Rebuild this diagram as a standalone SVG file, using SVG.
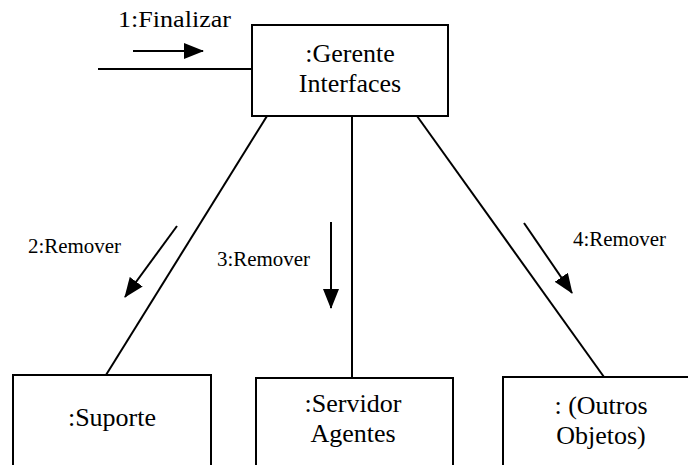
<svg xmlns="http://www.w3.org/2000/svg" width="688" height="465" viewBox="0 0 688 465">
  <style>
    .box { fill: #ffffff; stroke: #000000; stroke-width: 2; }
    .link { fill: none; stroke: #000000; stroke-width: 2; }
    .msg { fill: none; stroke: #000000; stroke-width: 2; marker-end: url(#head); }
    text { font-family: 'Liberation Serif', 'Times New Roman', serif; fill: #000000; }
    .obj { font-size: 26px; text-anchor: middle; }
    .msgtxt { font-size: 20px; }
  </style>
  <defs>
    <!-- filled triangular head for message arrows -->
    <marker id="head" viewBox="0 0 20 16" refX="19" refY="8" markerWidth="20" markerHeight="16" markerUnits="userSpaceOnUse" orient="auto">
      <path d="M0,0 L20,8 L0,16 Z" fill="#000000"/>
    </marker>
  </defs>
  <rect width="688" height="465" fill="#ffffff"/>

  <!-- links between objects, message arrows and their labels -->
  <g id="connectors">
    <line class="link" x1="98" y1="69" x2="252" y2="69"/>
    <line class="link" x1="267" y1="116" x2="106" y2="375"/>
    <line class="link" x1="352" y1="116" x2="352" y2="378"/>
    <line class="link" x1="417" y1="116" x2="604" y2="377"/>
    <line class="msg" x1="133" y1="51" x2="203" y2="51"/>
    <line class="msg" x1="177" y1="226" x2="125" y2="297"/>
    <line class="msg" x1="331" y1="222" x2="331" y2="308"/>
    <line class="msg" x1="524" y1="223" x2="572" y2="293"/>
    <text x="118" y="27" font-size="24" textLength="113" lengthAdjust="spacingAndGlyphs">1:Finalizar</text>
    <text class="msgtxt" x="28" y="253" textLength="93" lengthAdjust="spacingAndGlyphs">2:Remover</text>
    <text class="msgtxt" x="217" y="266" textLength="93" lengthAdjust="spacingAndGlyphs">3:Remover</text>
    <text class="msgtxt" x="573" y="246" textLength="93" lengthAdjust="spacingAndGlyphs">4:Remover</text>
  </g>

  <g id="gerente-interfaces">
    <rect class="box" x="252" y="25" width="196" height="91"/>
    <text class="obj" x="350" y="62">:Gerente</text>
    <text class="obj" x="350" y="92">Interfaces</text>
  </g>

  <g id="suporte">
    <rect class="box" x="13" y="375" width="198" height="105"/>
    <text class="obj" x="112" y="426">:Suporte</text>
  </g>

  <g id="servidor-agentes">
    <rect class="box" x="256" y="378" width="197" height="102"/>
    <text class="obj" x="353" y="412">:Servidor</text>
    <text class="obj" x="353" y="442">Agentes</text>
  </g>

  <g id="outros-objetos">
    <rect class="box" x="503" y="377" width="198" height="103"/>
    <text class="obj" x="601" y="414">: (Outros</text>
    <text class="obj" x="601" y="444">Objetos)</text>
  </g>
</svg>
